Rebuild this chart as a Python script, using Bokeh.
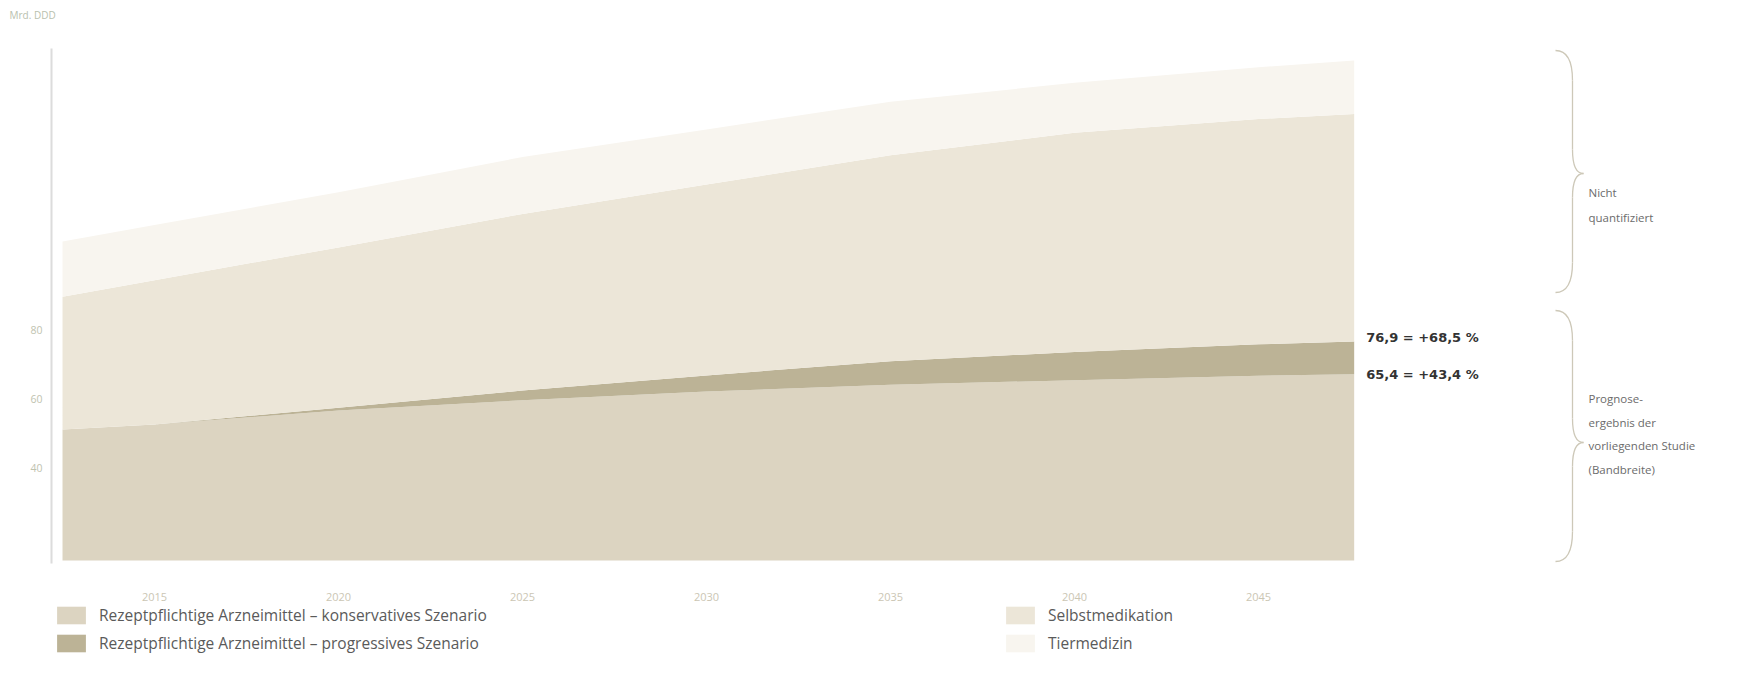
import numpy as np
from bokeh.plotting import figure
from bokeh.models import ColumnDataSource, Label, Legend, LegendItem, FixedTicker, Range1d
from bokeh.embed import file_html
from bokeh.resources import INLINE

# ---------------- data ----------------
years = [2012.5, 2015, 2020, 2025, 2030, 2035, 2040, 2045, 2047.6]
rx_conservative = [51.0, 52.5, 56.5, 59.5, 62.0, 64.0, 65.3, 66.6, 67.0]
rx_progressive = [51.0, 52.5, 57.3, 62.3, 66.7, 70.8, 73.5, 75.7, 76.5]
selbstmedikation_top = [89.5, 94.3, 103.8, 113.5, 122.0, 130.5, 137.0, 141.0, 142.5]
tiermedizin_top = [105.5, 110.3, 119.8, 130.0, 138.0, 146.0, 151.5, 156.0, 158.0]

x_ticks = [2015, 2020, 2025, 2030, 2035, 2040, 2045]
y_ticks = [40, 60, 80]

series_names = [
    "Rezeptpflichtige Arzneimittel – konservatives Szenario",
    "Rezeptpflichtige Arzneimittel – progressives Szenario",
    "Selbstmedikation",
    "Tiermedizin",
]
end_labels = ["76,9 = +68,5 %", "65,4 = +43,4 %"]
unit_label = "Mrd. DDD"
brace_labels = [["Nicht", "quantifiziert"],
                ["Prognose-", "ergebnis der", "vorliegenden Studie", "(Bandbreite)"]]

# ---------------- layout / style ----------------
W, H = 1748, 682
AX_LEFT, AX_TOP, AX_BOTTOM = 51, 48, 563   # y-axis line position / extent (px)
AREA_BOTTOM = 560
PX_PER_YEAR = 36.8
X2015_PX = 154
PX_PER_UNIT = 3.45
Y80_PX = 329

# frame covers the whole canvas; px <-> data conversions
x_start = 2015 - X2015_PX / PX_PER_YEAR
x_end = x_start + W / PX_PER_YEAR
y_end = 80 + Y80_PX / PX_PER_UNIT
y_start = y_end - H / PX_PER_UNIT

def px_to_x(px):
    return x_start + px / PX_PER_YEAR

def py_to_y(py):
    return y_end - py / PX_PER_UNIT

C_CONS = "#dcd4c1"
C_PROG = "#bcb396"
C_SELB = "#ece6d8"
C_TIER = "#f8f5ef"
FONT = "Open Sans"

baseline = py_to_y(AREA_BOTTOM)

src = ColumnDataSource(dict(
    x=years,
    base=[baseline] * len(years),
    cons=rx_conservative,
    prog=rx_progressive,
    selb=selbstmedikation_top,
    tier=tiermedizin_top,
))

p = figure(width=W, height=H, output_backend="svg", toolbar_location=None, title=None,
           x_range=Range1d(x_start, x_end), y_range=Range1d(y_start, y_end),
           min_border=0, min_border_left=0, min_border_right=0,
           min_border_top=0, min_border_bottom=0)
p.outline_line_color = None
p.xgrid.visible = False
p.ygrid.visible = False
p.background_fill_color = "white"
p.border_fill_color = "white"

r_cons = p.varea(x="x", y1="base", y2="cons", source=src, fill_color=C_CONS)
r_prog = p.varea(x="x", y1="cons", y2="prog", source=src, fill_color=C_PROG)
r_selb = p.varea(x="x", y1="prog", y2="selb", source=src, fill_color=C_SELB)
r_tier = p.varea(x="x", y1="selb", y2="tier", source=src, fill_color=C_TIER)

# axes (placed inside the full-canvas frame)
yax = p.yaxis[0]
yax.fixed_location = px_to_x(AX_LEFT)
yax.bounds = (py_to_y(AX_BOTTOM), py_to_y(AX_TOP))
yax.ticker = FixedTicker(ticks=y_ticks)
yax.axis_line_color = "#dcdcdc"
yax.axis_line_width = 2
yax.major_tick_line_color = None
yax.minor_tick_line_color = None
yax.major_label_text_color = "#bfc3b0"
yax.major_label_text_font = FONT
yax.major_label_text_font_size = "10.5px"
yax.major_label_standoff = 3

xax = p.xaxis[0]
xax.fixed_location = py_to_y(AX_BOTTOM)
xax.ticker = FixedTicker(ticks=x_ticks)
xax.axis_line_color = None
xax.major_tick_line_color = None
xax.minor_tick_line_color = None
xax.major_label_text_color = "#cbc6b4"
xax.major_label_text_font = FONT
xax.major_label_text_font_size = "11px"
xax.major_label_standoff = 23

# unit label
p.add_layout(Label(x=9, y=H - 14, x_units="screen", y_units="screen", text=unit_label,
                   text_font=FONT, text_font_size="10px", text_color="#b9bfae",
                   text_baseline="middle"))

# end labels
for txt, yv, dy in zip(end_labels, [rx_progressive[-1], rx_conservative[-1]], [4, 0]):
    p.add_layout(Label(x=years[-1], y=yv, x_offset=12, y_offset=dy, text=txt,
                       text_baseline="middle", text_font="DejaVu Sans",
                       text_font_style="bold", text_font_size="13px", text_color="#333333"))

# braces
def brace(top_py, bot_py, tip_py, xv_px=1572, curl_px=17, tip_px=11, r_px=30, r2_px=24):
    xv = px_to_x(xv_px)
    xa = px_to_x(xv_px - curl_px)
    xt = px_to_x(xv_px + tip_px)
    yt, yb, ym = py_to_y(top_py), py_to_y(bot_py), py_to_y(tip_py)
    r = r_px / PX_PER_UNIT
    r2 = r2_px / PX_PER_UNIT
    q = dict(x0=[xa, xv, xt, xv], y0=[yt, ym + r2, ym, yb + r],
             x1=[xv, xt, xv, xa], y1=[yt - r, ym, ym - r2, yb],
             cx=[xv, xv, xv, xv], cy=[yt, ym, ym, yb])
    p.quadratic(x0="x0", y0="y0", x1="x1", y1="y1", cx="cx", cy="cy",
                source=ColumnDataSource(q), line_color="#cdc8b8", line_width=1.3)
    p.segment(x0=[xv, xv], y0=[yt - r, ym - r2], x1=[xv, xv], y1=[ym + r2, yb + r],
              line_color="#cdc8b8", line_width=1.3)

brace(50, 292, 173)
brace(310, 561, 442)

def text_block(lines, first_py, step=23.5):
    for i, t in enumerate(lines):
        p.add_layout(Label(x=1588, y=H - (first_py + i * step), x_units="screen",
                           y_units="screen", text=t, text_font=FONT, text_font_size="11.5px",
                           text_color="#6b6b6b", text_baseline="middle"))

text_block(brace_labels[0], 192, 25)
text_block(brace_labels[1], 398)

# legends
def make_legend(items, left_px, top_px):
    leg = Legend(items=items, location=(left_px, H - top_px - 50),
                 background_fill_alpha=0, border_line_color=None, padding=0, margin=0,
                 spacing=6, glyph_width=36, glyph_height=22, label_height=22,
                 label_standoff=10, label_text_font=FONT, label_text_font_size="15.5px",
                 label_text_color="#5a5a5a")
    p.add_layout(leg)

make_legend([LegendItem(label=series_names[0], renderers=[r_cons]),
             LegendItem(label=series_names[1], renderers=[r_prog])], 53, 604)
make_legend([LegendItem(label=series_names[2], renderers=[r_selb]),
             LegendItem(label=series_names[3], renderers=[r_tier])], 1002, 604)

open("out.html", "w").write(file_html(p, INLINE))
